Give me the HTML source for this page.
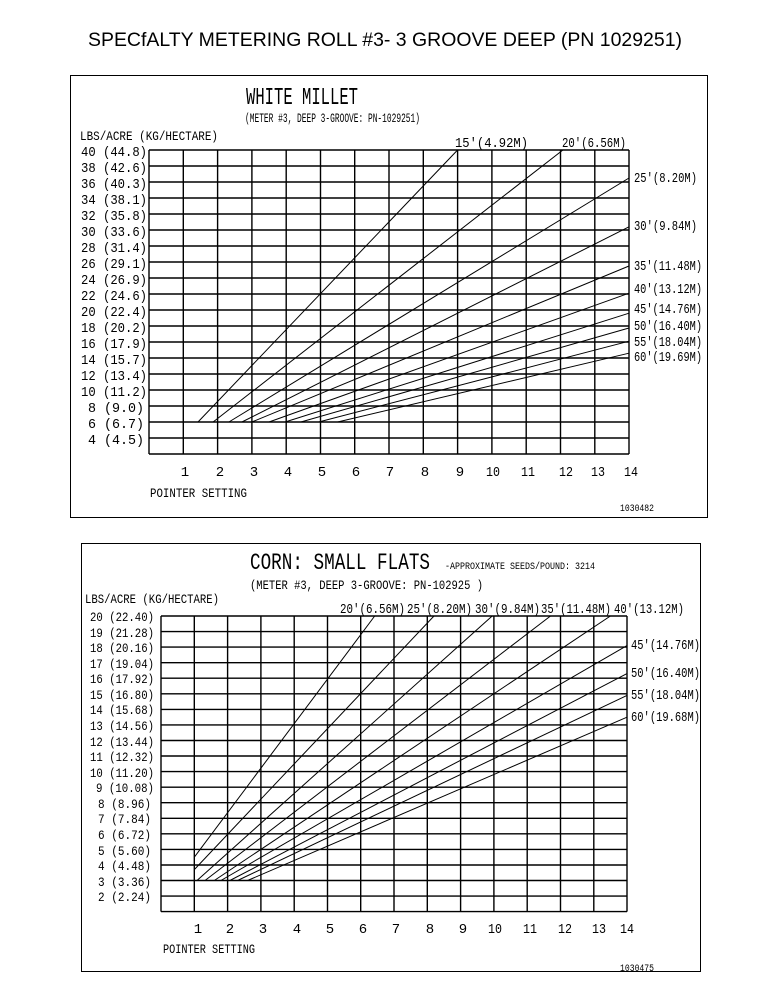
<!DOCTYPE html>
<html><head><meta charset="utf-8"><style>
html,body{margin:0;padding:0;background:#fff;}
svg{display:block;}
text{font-family:"Liberation Mono",monospace;fill:#000;}
.g line{stroke:#000;stroke-width:1.4;}
.d line{stroke:#000;stroke-width:1;}
.yl{font-size:14px;text-anchor:end;}
.yl2{font-size:13px;text-anchor:end;}
.xl{font-size:14px;text-anchor:middle;}
.lb{font-size:14px;}
</style></head><body>
<svg width="772" height="1000" viewBox="0 0 772 1000" xmlns="http://www.w3.org/2000/svg">
<text x="88" y="46" style="font-family:'Liberation Sans',sans-serif;font-size:19px" textLength="594" lengthAdjust="spacingAndGlyphs">SPECfALTY METERING ROLL  #3- 3 GROOVE DEEP (PN  1029251)</text>

<!-- TOP CHART -->
<rect x="70.5" y="75.5" width="637" height="442" fill="none" stroke="#000" stroke-width="1"/>
<text x="246" y="104" font-size="24" textLength="112" lengthAdjust="spacingAndGlyphs">WHITE MILLET</text>
<text x="245" y="122" font-size="13" textLength="175" lengthAdjust="spacingAndGlyphs">(METER #3, DEEP 3-GROOVE: PN-1029251)</text>
<text x="80" y="140" font-size="13" textLength="138" lengthAdjust="spacingAndGlyphs">LBS/ACRE (KG/HECTARE)</text>
<g class="g">
<line x1="149" y1="150" x2="149" y2="454"/><line x1="183.3" y1="150" x2="183.3" y2="454"/><line x1="217.6" y1="150" x2="217.6" y2="454"/><line x1="251.9" y1="150" x2="251.9" y2="454"/><line x1="286.2" y1="150" x2="286.2" y2="454"/><line x1="320.5" y1="150" x2="320.5" y2="454"/><line x1="354.7" y1="150" x2="354.7" y2="454"/><line x1="389" y1="150" x2="389" y2="454"/><line x1="423.3" y1="150" x2="423.3" y2="454"/><line x1="457.6" y1="150" x2="457.6" y2="454"/><line x1="491.9" y1="150" x2="491.9" y2="454"/><line x1="526.2" y1="150" x2="526.2" y2="454"/><line x1="560.5" y1="150" x2="560.5" y2="454"/><line x1="594.8" y1="150" x2="594.8" y2="454"/><line x1="629" y1="150" x2="629" y2="454"/>
<line x1="149" y1="150" x2="629" y2="150"/><line x1="149" y1="166" x2="629" y2="166"/><line x1="149" y1="182" x2="629" y2="182"/><line x1="149" y1="198" x2="629" y2="198"/><line x1="149" y1="214" x2="629" y2="214"/><line x1="149" y1="230" x2="629" y2="230"/><line x1="149" y1="246" x2="629" y2="246"/><line x1="149" y1="262" x2="629" y2="262"/><line x1="149" y1="278" x2="629" y2="278"/><line x1="149" y1="294" x2="629" y2="294"/><line x1="149" y1="310" x2="629" y2="310"/><line x1="149" y1="326" x2="629" y2="326"/><line x1="149" y1="342" x2="629" y2="342"/><line x1="149" y1="358" x2="629" y2="358"/><line x1="149" y1="374" x2="629" y2="374"/><line x1="149" y1="390" x2="629" y2="390"/><line x1="149" y1="406" x2="629" y2="406"/><line x1="149" y1="422" x2="629" y2="422"/><line x1="149" y1="438" x2="629" y2="438"/><line x1="149" y1="454" x2="629" y2="454"/>
</g>
<g class="yl">
<text x="147" y="156" textLength="66" lengthAdjust="spacingAndGlyphs">40 (44.8)</text><text x="147" y="172" textLength="66" lengthAdjust="spacingAndGlyphs">38 (42.6)</text><text x="147" y="188" textLength="66" lengthAdjust="spacingAndGlyphs">36 (40.3)</text><text x="147" y="204" textLength="66" lengthAdjust="spacingAndGlyphs">34 (38.1)</text><text x="147" y="220" textLength="66" lengthAdjust="spacingAndGlyphs">32 (35.8)</text><text x="147" y="236" textLength="66" lengthAdjust="spacingAndGlyphs">30 (33.6)</text><text x="147" y="252" textLength="66" lengthAdjust="spacingAndGlyphs">28 (31.4)</text><text x="147" y="268" textLength="66" lengthAdjust="spacingAndGlyphs">26 (29.1)</text><text x="147" y="284" textLength="66" lengthAdjust="spacingAndGlyphs">24 (26.9)</text><text x="147" y="300" textLength="66" lengthAdjust="spacingAndGlyphs">22 (24.6)</text><text x="147" y="316" textLength="66" lengthAdjust="spacingAndGlyphs">20 (22.4)</text><text x="147" y="332" textLength="66" lengthAdjust="spacingAndGlyphs">18 (20.2)</text><text x="147" y="348" textLength="66" lengthAdjust="spacingAndGlyphs">16 (17.9)</text><text x="147" y="364" textLength="66" lengthAdjust="spacingAndGlyphs">14 (15.7)</text><text x="147" y="380" textLength="66" lengthAdjust="spacingAndGlyphs">12 (13.4)</text><text x="147" y="396" textLength="66" lengthAdjust="spacingAndGlyphs">10 (11.2)</text><text x="144" y="412" textLength="56" lengthAdjust="spacingAndGlyphs">8 (9.0)</text><text x="144" y="428" textLength="56" lengthAdjust="spacingAndGlyphs">6 (6.7)</text><text x="144" y="444" textLength="56" lengthAdjust="spacingAndGlyphs">4 (4.5)</text>
</g>
<g class="d">
<line x1="198" y1="422" x2="457.6" y2="150"/>
<line x1="213.1" y1="422" x2="562.9" y2="150"/>
<line x1="228.9" y1="422" x2="629" y2="178"/>
<line x1="241.9" y1="422" x2="629" y2="226.8"/>
<line x1="251.9" y1="422" x2="629" y2="266"/>
<line x1="269" y1="422" x2="629" y2="293.2"/>
<line x1="285.1" y1="422" x2="629" y2="313.2"/>
<line x1="300.9" y1="422" x2="629" y2="328"/>
<line x1="318.7" y1="422" x2="629" y2="341.2"/>
<line x1="337.6" y1="422" x2="629" y2="353.2"/>
</g>
<g class="lb">
<text x="455" y="147" textLength="73" lengthAdjust="spacingAndGlyphs">15'(4.92M)</text>
<text x="562" y="147" textLength="64" lengthAdjust="spacingAndGlyphs">20'(6.56M)</text>
<text x="634" y="182" textLength="63" lengthAdjust="spacingAndGlyphs">25'(8.20M)</text>
<text x="634" y="230" textLength="63" lengthAdjust="spacingAndGlyphs">30'(9.84M)</text>
<text x="634" y="270" textLength="68" lengthAdjust="spacingAndGlyphs">35'(11.48M)</text>
<text x="634" y="293" textLength="68" lengthAdjust="spacingAndGlyphs">40'(13.12M)</text>
<text x="634" y="313" textLength="68" lengthAdjust="spacingAndGlyphs">45'(14.76M)</text>
<text x="634" y="330" textLength="68" lengthAdjust="spacingAndGlyphs">50'(16.40M)</text>
<text x="634" y="346" textLength="68" lengthAdjust="spacingAndGlyphs">55'(18.04M)</text>
<text x="634" y="361" textLength="68" lengthAdjust="spacingAndGlyphs">60'(19.69M)</text>
</g>
<g class="xl">
<text x="185" y="476">1</text><text x="220" y="476">2</text><text x="254" y="476">3</text><text x="288" y="476">4</text><text x="322" y="476">5</text><text x="356" y="476">6</text><text x="390" y="476">7</text><text x="425" y="476">8</text><text x="460" y="476">9</text><text x="493" y="476" textLength="14" lengthAdjust="spacingAndGlyphs">10</text><text x="528" y="476" textLength="14" lengthAdjust="spacingAndGlyphs">11</text><text x="566" y="476" textLength="14" lengthAdjust="spacingAndGlyphs">12</text><text x="598" y="476" textLength="14" lengthAdjust="spacingAndGlyphs">13</text><text x="631" y="476" textLength="14" lengthAdjust="spacingAndGlyphs">14</text>
</g>
<text x="150" y="497" font-size="13" textLength="97" lengthAdjust="spacingAndGlyphs">POINTER SETTING</text>
<text x="620" y="511" font-size="10" textLength="34" lengthAdjust="spacingAndGlyphs">1030482</text>

<!-- BOTTOM CHART -->
<rect x="81.5" y="543.5" width="619" height="428" fill="none" stroke="#000" stroke-width="1"/>
<text x="250" y="569" font-size="23" textLength="180" lengthAdjust="spacingAndGlyphs">CORN:  SMALL FLATS</text>
<text x="445" y="569" font-size="10" textLength="150" lengthAdjust="spacingAndGlyphs">-APPROXIMATE SEEDS/POUND: 3214</text>
<text x="250" y="589" font-size="13" textLength="233" lengthAdjust="spacingAndGlyphs">(METER #3, DEEP 3-GROOVE: PN-102925 )</text>
<text x="85" y="603" font-size="13" textLength="134" lengthAdjust="spacingAndGlyphs">LBS/ACRE (KG/HECTARE)</text>
<g class="g">
<line x1="161" y1="616" x2="161" y2="911.6"/><line x1="194.3" y1="616" x2="194.3" y2="911.6"/><line x1="227.6" y1="616" x2="227.6" y2="911.6"/><line x1="260.9" y1="616" x2="260.9" y2="911.6"/><line x1="294.2" y1="616" x2="294.2" y2="911.6"/><line x1="327.5" y1="616" x2="327.5" y2="911.6"/><line x1="360.7" y1="616" x2="360.7" y2="911.6"/><line x1="394" y1="616" x2="394" y2="911.6"/><line x1="427.3" y1="616" x2="427.3" y2="911.6"/><line x1="460.6" y1="616" x2="460.6" y2="911.6"/><line x1="493.9" y1="616" x2="493.9" y2="911.6"/><line x1="527.2" y1="616" x2="527.2" y2="911.6"/><line x1="560.5" y1="616" x2="560.5" y2="911.6"/><line x1="593.8" y1="616" x2="593.8" y2="911.6"/><line x1="627" y1="616" x2="627" y2="911.6"/>
<line x1="161" y1="616" x2="627" y2="616"/><line x1="161" y1="631.6" x2="627" y2="631.6"/><line x1="161" y1="647.1" x2="627" y2="647.1"/><line x1="161" y1="662.7" x2="627" y2="662.7"/><line x1="161" y1="678.2" x2="627" y2="678.2"/><line x1="161" y1="693.8" x2="627" y2="693.8"/><line x1="161" y1="709.4" x2="627" y2="709.4"/><line x1="161" y1="724.9" x2="627" y2="724.9"/><line x1="161" y1="740.5" x2="627" y2="740.5"/><line x1="161" y1="756" x2="627" y2="756"/><line x1="161" y1="771.6" x2="627" y2="771.6"/><line x1="161" y1="787.2" x2="627" y2="787.2"/><line x1="161" y1="802.7" x2="627" y2="802.7"/><line x1="161" y1="818.3" x2="627" y2="818.3"/><line x1="161" y1="833.8" x2="627" y2="833.8"/><line x1="161" y1="849.4" x2="627" y2="849.4"/><line x1="161" y1="865" x2="627" y2="865"/><line x1="161" y1="880.5" x2="627" y2="880.5"/><line x1="161" y1="896.1" x2="627" y2="896.1"/><line x1="161" y1="911.6" x2="627" y2="911.6"/>
</g>
<g class="yl2">
<text x="154" y="621" textLength="64" lengthAdjust="spacingAndGlyphs">20 (22.40)</text><text x="154" y="637" textLength="64" lengthAdjust="spacingAndGlyphs">19 (21.28)</text><text x="154" y="652" textLength="64" lengthAdjust="spacingAndGlyphs">18 (20.16)</text><text x="154" y="668" textLength="64" lengthAdjust="spacingAndGlyphs">17 (19.04)</text><text x="154" y="683" textLength="64" lengthAdjust="spacingAndGlyphs">16 (17.92)</text><text x="154" y="699" textLength="64" lengthAdjust="spacingAndGlyphs">15 (16.80)</text><text x="154" y="714" textLength="64" lengthAdjust="spacingAndGlyphs">14 (15.68)</text><text x="154" y="730" textLength="64" lengthAdjust="spacingAndGlyphs">13 (14.56)</text><text x="154" y="746" textLength="64" lengthAdjust="spacingAndGlyphs">12 (13.44)</text><text x="154" y="761" textLength="64" lengthAdjust="spacingAndGlyphs">11 (12.32)</text><text x="154" y="777" textLength="64" lengthAdjust="spacingAndGlyphs">10 (11.20)</text><text x="154" y="792" textLength="58" lengthAdjust="spacingAndGlyphs">9 (10.08)</text><text x="151" y="808" textLength="53" lengthAdjust="spacingAndGlyphs">8 (8.96)</text><text x="151" y="823" textLength="53" lengthAdjust="spacingAndGlyphs">7 (7.84)</text><text x="151" y="839" textLength="53" lengthAdjust="spacingAndGlyphs">6 (6.72)</text><text x="151" y="855" textLength="53" lengthAdjust="spacingAndGlyphs">5 (5.60)</text><text x="151" y="870" textLength="53" lengthAdjust="spacingAndGlyphs">4 (4.48)</text><text x="151" y="886" textLength="53" lengthAdjust="spacingAndGlyphs">3 (3.36)</text><text x="151" y="901" textLength="53" lengthAdjust="spacingAndGlyphs">2 (2.24)</text>
</g>
<g class="d">
<line x1="194.3" y1="857.2" x2="374.7" y2="616"/>
<line x1="194.3" y1="869.6" x2="434" y2="616"/>
<line x1="197" y1="880.5" x2="492.2" y2="616"/>
<line x1="205" y1="880.5" x2="550.5" y2="616"/>
<line x1="214.3" y1="880.5" x2="610.4" y2="616"/>
<line x1="220.9" y1="880.5" x2="627" y2="645.6"/>
<line x1="229.9" y1="880.5" x2="627" y2="673.6"/>
<line x1="237.6" y1="880.5" x2="627" y2="695.4"/>
<line x1="247.6" y1="880.5" x2="627" y2="717.2"/>
</g>
<g class="lb">
<text x="340" y="613" textLength="65" lengthAdjust="spacingAndGlyphs">20'(6.56M)</text>
<text x="407" y="613" textLength="65" lengthAdjust="spacingAndGlyphs">25'(8.20M)</text>
<text x="475" y="613" textLength="65" lengthAdjust="spacingAndGlyphs">30'(9.84M)</text>
<text x="541" y="613" textLength="70" lengthAdjust="spacingAndGlyphs">35'(11.48M)</text>
<text x="614" y="613" textLength="70" lengthAdjust="spacingAndGlyphs">40'(13.12M)</text>
<text x="631" y="649" textLength="69" lengthAdjust="spacingAndGlyphs">45'(14.76M)</text>
<text x="631" y="677" textLength="69" lengthAdjust="spacingAndGlyphs">50'(16.40M)</text>
<text x="631" y="699" textLength="69" lengthAdjust="spacingAndGlyphs">55'(18.04M)</text>
<text x="631" y="721" textLength="69" lengthAdjust="spacingAndGlyphs">60'(19.68M)</text>
</g>
<g class="xl">
<text x="198" y="933">1</text><text x="230" y="933">2</text><text x="263" y="933">3</text><text x="297" y="933">4</text><text x="330" y="933">5</text><text x="363" y="933">6</text><text x="396" y="933">7</text><text x="430" y="933">8</text><text x="463" y="933">9</text><text x="495" y="933" textLength="14" lengthAdjust="spacingAndGlyphs">10</text><text x="530" y="933" textLength="14" lengthAdjust="spacingAndGlyphs">11</text><text x="565" y="933" textLength="14" lengthAdjust="spacingAndGlyphs">12</text><text x="599" y="933" textLength="14" lengthAdjust="spacingAndGlyphs">13</text><text x="627" y="933" textLength="14" lengthAdjust="spacingAndGlyphs">14</text>
</g>
<text x="163" y="953" font-size="13" textLength="92" lengthAdjust="spacingAndGlyphs">POINTER SETTING</text>
<text x="620" y="971" font-size="10" textLength="34" lengthAdjust="spacingAndGlyphs">1030475</text>
</svg>
</body></html>
